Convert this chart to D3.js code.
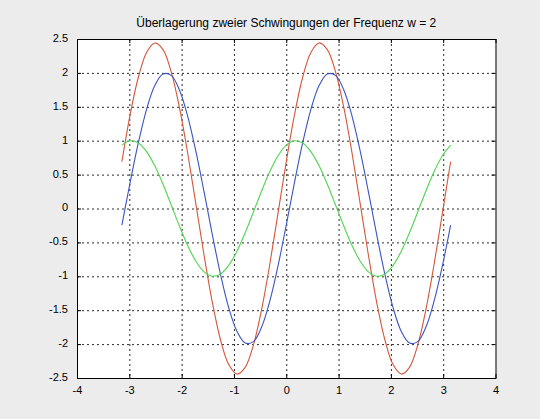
<!DOCTYPE html>
<html>
<head>
<meta charset="utf-8">
<script src="https://cdn.jsdelivr.net/npm/d3@7"></script>
<style>
body{margin:0;background:#ececec;}
svg{display:block;}
</style>
</head>
<body>
<div id="wrapper"></div>
<script>
// x-Werte von -pi bis pi
const xValues = [-3.142,-2.985,-2.827,-2.670,-2.513,-2.356,-2.199,-2.042,-1.885,-1.728,
  -1.571,-1.414,-1.257,-1.100,-0.942,-0.785,-0.628,-0.471,-0.314,-0.157,
  0,0.157,0.314,0.471,0.628,0.785,0.942,1.100,1.257,1.414,
  1.571,1.728,1.885,2.042,2.199,2.356,2.513,2.670,2.827,2.985,3.142];

// erste Schwingung (gruen, Amplitude 1)
const greenValues = [0.934,0.999,0.966,0.839,0.629,0.358,0.052,-0.259,-0.545,-0.777,
  -0.934,-0.999,-0.966,-0.839,-0.629,-0.358,-0.052,0.259,0.545,0.777,
  0.934,0.999,0.966,0.839,0.629,0.358,0.052,-0.259,-0.545,-0.777,
  -0.934,-0.999,-0.966,-0.839,-0.629,-0.358,-0.052,0.259,0.545,0.777,0.934];

// zweite Schwingung (blau, Amplitude 2)
const blueValues = [-0.244,0.382,0.970,1.463,1.813,1.985,1.963,1.749,1.364,0.845,
  0.244,-0.382,-0.970,-1.463,-1.813,-1.985,-1.963,-1.749,-1.364,-0.845,
  -0.244,0.382,0.970,1.463,1.813,1.985,1.963,1.749,1.364,0.845,
  0.244,-0.382,-0.970,-1.463,-1.813,-1.985,-1.963,-1.749,-1.364,-0.845,-0.244];

// Ueberlagerung (rot)
const redValues = [0.690,1.381,1.936,2.302,2.442,2.343,2.015,1.490,0.819,0.068,
  -0.690,-1.381,-1.936,-2.302,-2.442,-2.343,-2.015,-1.490,-0.819,-0.068,
  0.690,1.381,1.936,2.302,2.442,2.343,2.015,1.490,0.819,0.068,
  -0.690,-1.381,-1.936,-2.302,-2.442,-2.343,-2.015,-1.490,-0.819,-0.068,0.690];

const xTicks = [-4,-3,-2,-1,0,1,2,3,4];
const yTicks = [-2.5,-2,-1.5,-1,-0.5,0,0.5,1,1.5,2,2.5];
const titleText = "Überlagerung zweier Schwingungen der Frequenz w = 2";

const colors = {red:"#d4563a", blue:"#3a54c4", green:"#4fd44f", grid:"#2a2a2a"};

// Abmessungen
const dimensions = {
  width: 540,
  height: 419,
  margin: {top: 39, right: 44.5, bottom: 41, left: 77},
};
dimensions.boundedWidth = dimensions.width - dimensions.margin.left - dimensions.margin.right;
dimensions.boundedHeight = dimensions.height - dimensions.margin.top - dimensions.margin.bottom;

const wrapper = d3.select("#wrapper")
  .append("svg")
  .attr("width", dimensions.width)
  .attr("height", dimensions.height)
  .style("font-family", "'Liberation Sans', Arial, sans-serif");

wrapper.append("rect")
  .attr("width", dimensions.width)
  .attr("height", dimensions.height)
  .attr("fill", "#ececec");

const bounds = wrapper.append("g")
  .attr("transform", `translate(${dimensions.margin.left},${dimensions.margin.top})`);

const xScale = d3.scaleLinear().domain([-4, 4]).range([0, dimensions.boundedWidth]);
const yScale = d3.scaleLinear().domain([-2.5, 2.5]).range([dimensions.boundedHeight, 0]);

// weisser Hintergrund der Achsen
bounds.append("rect")
  .attr("width", dimensions.boundedWidth)
  .attr("height", dimensions.boundedHeight)
  .attr("fill", "white");

// Gitter (gepunktet)
const grid = bounds.append("g");
grid.selectAll(".vgrid").data(xTicks.slice(1, -1))
  .join("line")
  .attr("x1", d => xScale(d) + 0.5).attr("x2", d => xScale(d) + 0.5)
  .attr("y1", 0).attr("y2", dimensions.boundedHeight)
  .attr("stroke", colors.grid).attr("stroke-width", 1)
  .attr("stroke-dasharray", "2,3");
grid.selectAll(".hgrid").data(yTicks.slice(1, -1))
  .join("line")
  .attr("y1", d => yScale(d) + 0.5).attr("y2", d => yScale(d) + 0.5)
  .attr("x1", 0).attr("x2", dimensions.boundedWidth)
  .attr("stroke", colors.grid).attr("stroke-width", 1)
  .attr("stroke-dasharray", "2,3");

// Achsen mit Ticks nach innen
const fmt = d => String(d);
const xAxis = bounds.append("g")
  .attr("transform", `translate(0,${dimensions.boundedHeight})`)
  .call(d3.axisBottom(xScale).tickValues(xTicks).tickFormat(fmt).tickSizeInner(-4).tickSizeOuter(0).tickPadding(8));
const xAxisTop = bounds.append("g")
  .call(d3.axisTop(xScale).tickValues(xTicks).tickFormat("").tickSizeInner(-4).tickSizeOuter(0));
const yAxis = bounds.append("g")
  .call(d3.axisLeft(yScale).tickValues(yTicks).tickFormat(fmt).tickSizeInner(-4).tickSizeOuter(0).tickPadding(9));
const yAxisRight = bounds.append("g")
  .attr("transform", `translate(${dimensions.boundedWidth},0)`)
  .call(d3.axisRight(yScale).tickValues(yTicks).tickFormat("").tickSizeInner(-4).tickSizeOuter(0));

[xAxis, xAxisTop, yAxis, yAxisRight].forEach(a => {
  a.select(".domain").remove();
  a.selectAll("line").attr("stroke", "#000");
  a.selectAll("text").attr("fill", "#000").style("font-size", "11px");
});
yAxis.selectAll("text").attr("dy", "0.22em");

// Kurven
const lineGen = (values) => d3.line()
  .x((d, i) => xScale(xValues[i]))
  .y(d => yScale(d))
  .curve(d3.curveCatmullRom)(values);

const series = [
  {values: redValues, color: colors.red},
  {values: blueValues, color: colors.blue},
  {values: greenValues, color: colors.green},
];
bounds.append("g").selectAll("path").data(series)
  .join("path")
  .attr("d", d => lineGen(d.values))
  .attr("fill", "none")
  .attr("stroke", d => d.color)
  .attr("stroke-width", 1.1);

// Rahmen
bounds.append("rect")
  .attr("x", 0.5).attr("y", 0.5)
  .attr("width", dimensions.boundedWidth)
  .attr("height", dimensions.boundedHeight)
  .attr("fill", "none")
  .attr("stroke", "#000")
  .attr("stroke-width", 1);

// Titel
wrapper.append("text")
  .attr("x", dimensions.margin.left + dimensions.boundedWidth / 2)
  .attr("y", 27)
  .attr("text-anchor", "middle")
  .style("font-size", "12px")
  .attr("fill", "#000")
  .text(titleText);
</script>
</body>
</html>
